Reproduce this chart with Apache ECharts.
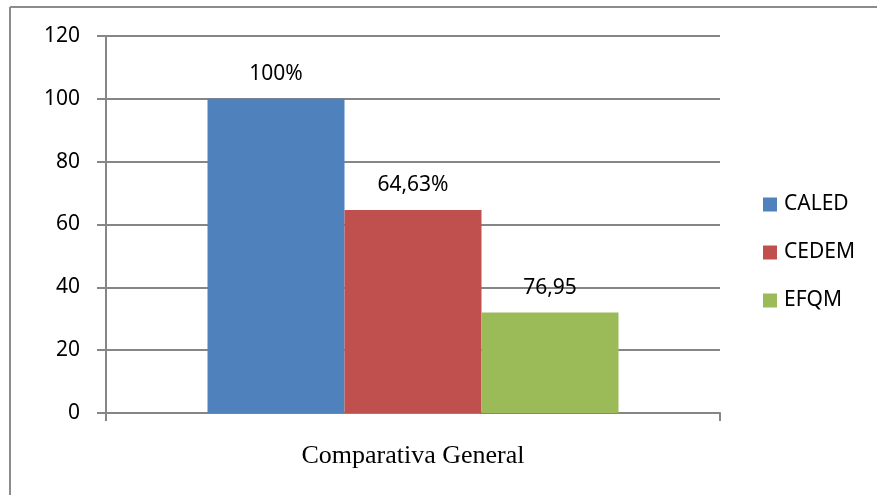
<!DOCTYPE html>
<html>
<head>
<meta charset="utf-8">
<script src="https://cdn.jsdelivr.net/npm/echarts@6/dist/echarts.min.js"></script>
<style>
html, body { margin: 0; padding: 0; background: #fff; }
#main { width: 877px; height: 495px; }
</style>
</head>
<body>
<div id="main"></div>
<script>
var categories = ['Comparativa General'];
var seriesNames = ['CALED', 'CEDEM', 'EFQM'];
var seriesValues = [100, 64.63, 32];
var seriesLabels = ['100%', '64,63%', '76,95'];
var seriesColors = ['#4f81bd', '#c0504d', '#9bbb59'];

var myChart = echarts.init(document.getElementById('main'));

var series = [];
for (var i = 0; i < seriesNames.length; i++) {
    series.push({
        name: seriesNames[i],
        type: 'bar',
        data: [seriesValues[i]],
        barWidth: 137,
        barGap: '0%',
        itemStyle: { color: seriesColors[i] },
        label: {
            show: true,
            position: 'top',
            distance: 14,
            color: '#000',
            fontSize: 21,
            fontFamily: 'Noto Sans',
            formatter: (function (txt) { return function () { return txt; }; })(seriesLabels[i])
        }
    });
}

var option = {
    animation: false,
    backgroundColor: '#fff',
    grid: {
        left: 106,
        right: 157,
        top: 36,
        bottom: 82
    },
    legend: {
        orient: 'vertical',
        left: 758,
        top: 189,
        itemWidth: 14,
        itemHeight: 14,
        itemGap: 27,
        icon: 'rect',
        textStyle: { fontSize: 21, fontFamily: 'Noto Sans', color: '#000', padding: [0, 0, 0, 2] },
        data: seriesNames
    },
    xAxis: {
        type: 'category',
        data: categories,
        axisLine: { lineStyle: { color: '#868686', width: 2 } },
        axisTick: { show: true, length: 8, lineStyle: { color: '#868686', width: 2 } },
        axisLabel: {
            margin: 30,
            color: '#000',
            fontSize: 26,
            fontFamily: 'Liberation Serif'
        }
    },
    yAxis: {
        type: 'value',
        min: 0,
        max: 120,
        interval: 20,
        axisLine: { show: true, lineStyle: { color: '#868686', width: 2 } },
        axisTick: { show: true, length: 9, lineStyle: { color: '#868686', width: 2 } },
        splitLine: { lineStyle: { color: '#868686', width: 2 } },
        axisLabel: {
            margin: 26,
            color: '#000',
            fontSize: 21,
            fontFamily: 'Noto Sans'
        }
    },
    graphic: [
        { type: 'line', shape: { x1: 10, y1: 7, x2: 877, y2: 7 }, style: { stroke: '#8c8c8c', lineWidth: 2 } },
        { type: 'line', shape: { x1: 10, y1: 7, x2: 10, y2: 495 }, style: { stroke: '#8c8c8c', lineWidth: 2 } }
    ],
    series: series
};

myChart.setOption(option);
window.onresize = myChart.resize;
</script>
</body>
</html>
